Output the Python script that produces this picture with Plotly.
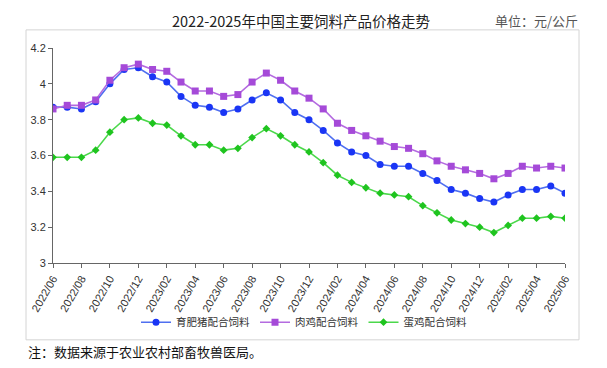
import plotly.graph_objects as go

months = ["2022/06","2022/07","2022/08","2022/09","2022/10","2022/11","2022/12",
          "2023/01","2023/02","2023/03","2023/04","2023/05","2023/06","2023/07",
          "2023/08","2023/09","2023/10","2023/11","2023/12","2024/01","2024/02",
          "2024/03","2024/04","2024/05","2024/06","2024/07","2024/08","2024/09",
          "2024/10","2024/11","2024/12","2025/01","2025/02","2025/03","2025/04",
          "2025/05","2025/06"]

pig = [3.87,3.87,3.86,3.90,4.00,4.08,4.09,4.04,4.01,3.93,3.88,3.87,3.84,3.86,
       3.91,3.95,3.91,3.84,3.80,3.74,3.67,3.62,3.60,3.55,3.54,3.54,3.50,3.46,
       3.41,3.39,3.36,3.34,3.38,3.41,3.41,3.43,3.39]
broiler = [3.86,3.88,3.88,3.91,4.02,4.09,4.11,4.08,4.07,4.01,3.96,3.96,3.93,3.94,
           4.01,4.06,4.02,3.96,3.92,3.86,3.78,3.74,3.71,3.68,3.65,3.64,3.61,3.57,
           3.54,3.52,3.50,3.47,3.50,3.54,3.53,3.54,3.53]
layer = [3.59,3.59,3.59,3.63,3.73,3.80,3.81,3.78,3.77,3.71,3.66,3.66,3.63,3.64,
         3.70,3.75,3.71,3.66,3.62,3.56,3.49,3.45,3.42,3.39,3.38,3.37,3.32,3.28,
         3.24,3.22,3.20,3.17,3.21,3.25,3.25,3.26,3.25]

series_names = ["育肥猪配合饲料", "肉鸡配合饲料", "蛋鸡配合饲料"]
tick_every = 2
y_ticks = [3, 3.2, 3.4, 3.6, 3.8, 4, 4.2]

title_text = "2022-2025年中国主要饲料产品价格走势"
unit_text = "单位：元/公斤"
note_text = "注：数据来源于农业农村部畜牧兽医局。"

xs = list(range(len(months)))
FONT = "Liberation Sans, Noto Sans CJK SC, sans-serif"
CJK = "Noto Sans CJK SC, sans-serif"

fig = go.Figure()
styles = [
    (pig, "#4f6ff0", "#1a35f5", "circle", 7),
    (broiler, "#b46be0", "#a54ad8", "square", 7),
    (layer, "#4bd84b", "#1fc41f", "diamond", 6),
]
for name, (vals, lc, mc, sym, ms) in zip(series_names, styles):
    fig.add_trace(go.Scatter(
        x=xs, y=vals, name=name, mode="lines+markers",
        line=dict(color=lc, width=1.6),
        marker=dict(color=mc, symbol=sym, size=ms, line=dict(width=0)),
    ))

# page body has an 8px margin; work in page pixels and shift into figure space
OFF = 8
W, H = 607 - OFF, 368 - OFF
plot_left, plot_right, plot_top, plot_bottom = 53, 565, 47.5, 263.5
L = plot_left - OFF
R = W - (plot_right - OFF)
T = plot_top - OFF
B = H - (plot_bottom - OFF)
pw, ph = W - L - R, H - T - B

def px(x):
    return (x - OFF - L) / pw

def py(y):
    return (H - B - (y - OFF)) / ph

fig.update_layout(
    width=W, height=H,
    margin=dict(l=L, r=R, t=T, b=B, pad=0),
    paper_bgcolor="white", plot_bgcolor="white",
    font=dict(family=FONT, size=11, color="#333"),
    showlegend=True,
    legend=dict(orientation="h", x=px(304), y=py(323), xanchor="center",
                yanchor="middle", font=dict(family=CJK, size=10.5, color="#333"),
                itemwidth=30, bgcolor="rgba(0,0,0,0)"),
    xaxis=dict(range=[0, len(months) - 1], tickmode="array",
               tickvals=xs[::tick_every], ticktext=months[::tick_every],
               tickangle=-60, showline=True, linecolor="#666", linewidth=1,
               ticks="outside", ticklen=4, tickcolor="#666", showgrid=False,
               zeroline=False, tickfont=dict(size=11, color="#333"),
               automargin=False),
    yaxis=dict(range=[3, 4.2], tickmode="array", tickvals=y_ticks,
               ticktext=[f"{v:g}" for v in y_ticks],
               showline=True, linecolor="#666", linewidth=1,
               ticks="outside", ticklen=4, tickcolor="#666", showgrid=False,
               zeroline=False, tickfont=dict(size=11, color="#333"),
               automargin=False),
)

fig.add_shape(type="rect", xref="paper", yref="paper",
              x0=px(26), x1=px(579), y0=py(340.7), y1=py(29.3),
              line=dict(color="#d4d4d4", width=1), fillcolor="rgba(0,0,0,0)",
              layer="below")

fig.add_annotation(text=title_text, xref="paper", yref="paper",
                   x=px(301), y=py(OFF), xanchor="center", yanchor="top",
                   showarrow=False, borderpad=0,
                   font=dict(family=CJK, size=14.5, color="#222"))
fig.add_annotation(text=unit_text, xref="paper", yref="paper",
                   x=px(579), y=py(OFF + 1), xanchor="right", yanchor="top",
                   showarrow=False, borderpad=0,
                   font=dict(family=CJK, size=13, color="#555"))
fig.add_annotation(text=note_text, xref="paper", yref="paper",
                   x=px(26), y=py(352), xanchor="left", yanchor="middle",
                   showarrow=False, font=dict(family=CJK, size=13, color="#111"))

fig.write_html("out.html")
